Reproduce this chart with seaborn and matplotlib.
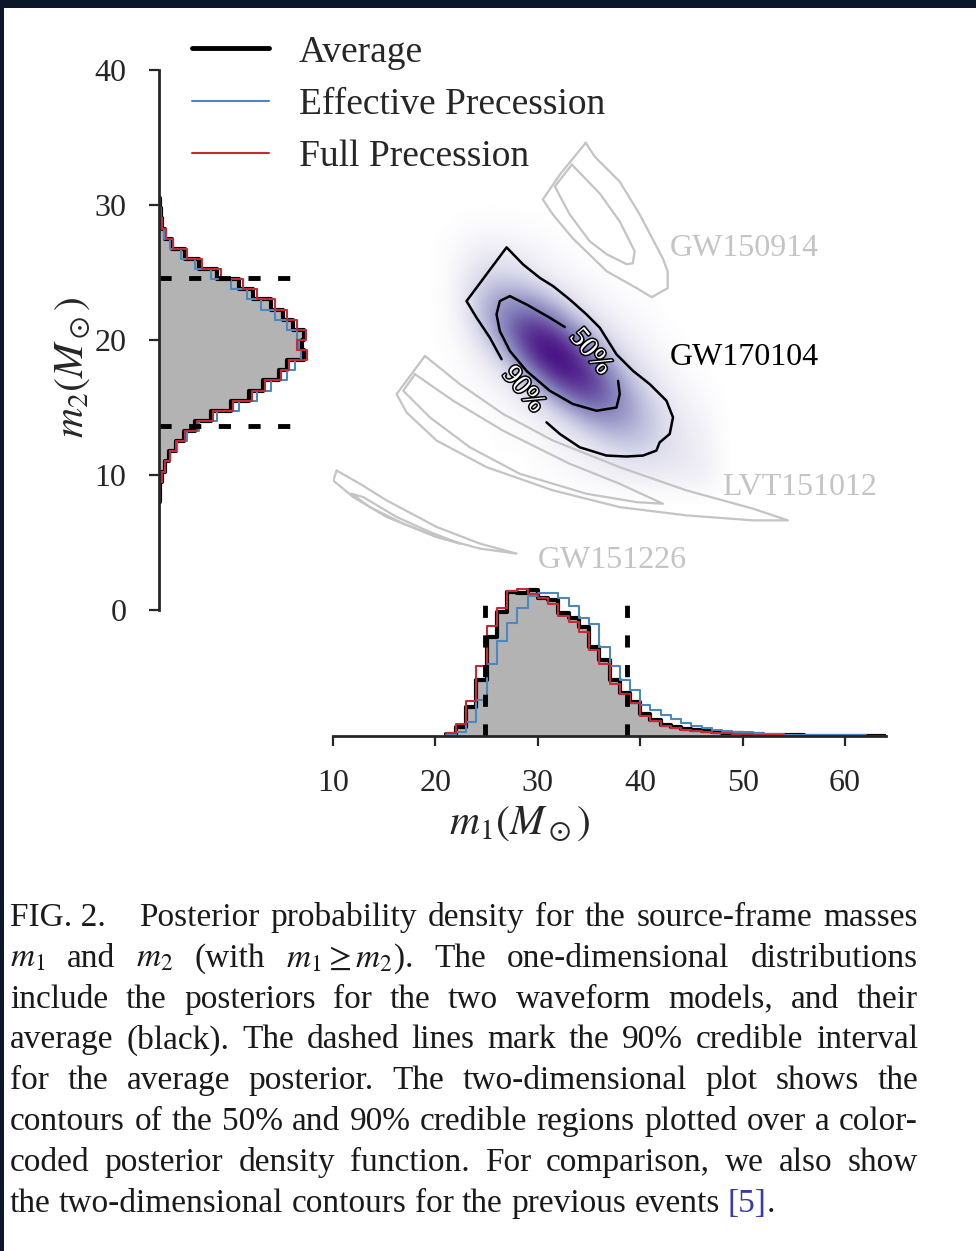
import numpy as np
import pandas as pd
import matplotlib
matplotlib.use("Agg")
import matplotlib.pyplot as plt
import matplotlib.patheffects as pe
from matplotlib.colors import PowerNorm, LinearSegmentedColormap
from matplotlib.lines import Line2D
from matplotlib.patches import Rectangle
import seaborn as sns

sns.set_style("white")
plt.rcParams["font.family"] = ["Liberation Serif", "DejaVu Serif"]
plt.rcParams["mathtext.fontset"] = "stix"

W, H = 976, 1251

# ---- 1D posteriors ----
m1_edges = list(np.arange(21, 65, 1.0))
m1_avg = [2, 9, 29, 56, 99, 124, 144, 143, 146, 138, 136, 123, 118, 109, 89,
          76, 56, 43, 34, 22, 16, 11, 9, 7, 6, 5, 4, 3, 3, 2, 2, 1, 1, 1, 1,
          .5, .5, .5, .5, .3, .3, .3, .3]
m1_eff = [1, 4, 14, 36, 72, 95, 113, 128, 140, 143, 143, 138, 130, 118, 112,
          89, 70, 56, 46, 31, 26, 21, 17, 13, 10, 8, 6, 5, 4, 4, 3, 2, 2, 1, 1,
          1, 1, .8, .8, .6, .6, .5, .5]
m1_full = [3, 12, 35, 70, 110, 128, 145, 147, 142, 138, 132, 120, 114, 104, 86,
           72, 52, 42, 33, 20, 15, 10, 8, 6, 5, 4, 3, 3, 2, 2, 1, 1, 1, .5, .5,
           .5, .3, .3, .3, .2, .2, .2, .2]
m1_ci = [24.8, 38.7]

m2_edges = list(np.arange(8.0, 30.51, 0.75))
m2_avg = [.5, 1, 3, 6, 10, 17, 25, 36, 52, 72, 90, 104, 120, 128, 145,
          143, 145, 134, 124, 112, 94, 80, 58, 40, 26, 13, 6, 3, 2, 1]
m2_eff = [.5, 1, 3, 6, 11, 18, 28, 40, 58, 80, 98, 112, 128, 136, 142,
          140, 138, 128, 116, 102, 88, 72, 52, 36, 22, 11, 5, 3, 1.5, .5]
m2_full = [.5, 1, 3, 6, 11, 17, 26, 38, 54, 74, 93, 106, 122, 130, 148,
           138, 147, 138, 128, 116, 98, 84, 62, 43, 28, 14, 7, 3, 2, 1]
m2_ci = [13.65, 24.6]

# ---- 2D credible contours (m1, m2) ----
gw170104_90_m1 = [26.46, 25.32, 24.02, 23.04, 26.95, 28.57, 30.20, 31.49, 33.12, 34.75, 36.05, 37.68, 39.30,
                  40.93, 42.56, 43.20, 42.88, 41.90, 41.58, 40.27, 38.65, 36.70, 34.10, 32.15, 30.85]
gw170104_90_m2 = [18.58, 20.17, 21.65, 22.88, 26.86, 25.59, 24.60, 23.99, 23.00, 21.90, 20.91, 18.94, 17.71,
                  16.73, 15.50, 14.27, 13.04, 12.42, 11.81, 11.44, 11.37, 11.44, 12.05, 13.04, 13.90]
gw170104_50_m1 = [32.63, 31.17, 28.90, 27.27, 26.29, 25.97, 26.29, 27.27, 28.90, 31.17, 33.45, 35.73, 37.68, 38.0, 37.84]
gw170104_50_m2 = [20.96, 21.65, 22.63, 23.25, 22.88, 21.90, 20.66, 19.19, 17.71, 16.24, 15.25, 14.76, 15.00, 15.99, 16.97]

gw150914_90_m1 = [34.68, 35.56, 38.0, 39.95, 42.2, 42.68, 42.68, 41.12, 39.66, 36.73, 33.41, 31.46, 30.49, 32.15]
gw150914_90_m2 = [34.61, 33.58, 31.73, 29.30, 26.05, 25.09, 23.84, 23.17, 23.84, 25.09, 27.53, 29.30, 30.41, 32.25]
gw150914_50_m1 = [33.32, 36.05, 38.0, 39.46, 39.27, 38.68, 36.73, 35.07, 33.12, 31.66]
gw150914_50_m2 = [32.99, 30.85, 28.78, 26.57, 25.68, 25.61, 26.35, 27.31, 29.30, 31.37]

lvt151012_90_m1 = [18.98, 22.39, 26.61, 31.49, 38.0, 44.51, 51.0, 54.42, 51.0, 44.51, 38.0, 31.49, 25.0, 20.12, 17.19, 16.21]
lvt151012_90_m2 = [18.82, 16.73, 14.52, 12.55, 10.58, 8.86, 7.51, 6.64, 6.64, 7.01, 7.62, 8.86, 10.58, 12.55, 14.63, 15.99]
lvt151012_50_m1 = [18.0, 21.74, 26.61, 33.12, 38.0, 42.22, 39.63, 34.75, 28.24, 23.37, 19.46, 16.86]
lvt151012_50_m2 = [17.47, 15.50, 13.28, 10.83, 9.35, 7.87, 7.99, 8.61, 10.09, 12.05, 14.27, 16.24]

gw151226_90_m1 = [10.36, 10.03, 11.98, 15.24, 20.12, 24.34, 27.92, 24.34, 20.12, 15.24, 12.63]
gw151226_90_m2 = [10.33, 9.59, 8.36, 6.89, 5.41, 4.55, 4.18, 4.92, 6.15, 8.12, 9.35]
gw151226_50_m1 = [11.82, 13.61, 16.86, 20.12, 22.39, 19.46, 16.21, 12.96]
gw151226_50_m2 = [8.61, 7.62, 6.40, 5.41, 4.92, 5.78, 6.89, 8.36]

# ---- GW170104 posterior density (colour intensity, rows = m2, cols = m1) ----
grid_m1 = [19.5, 21, 22.5, 24, 25.5, 27, 28.5, 30, 31.5, 33, 34.5, 36, 37.5, 39, 40.5, 42, 43.5, 45, 46.5, 48]
grid_m2 = [8.5, 10, 11.5, 13, 14.5, 16, 17.5, 19, 20.5, 22, 23.5, 25, 26.5, 28, 29.5]
density = [
    [0, 0, 0, 0, 0, 0, 0, 0, 0, 0, 0, 0, 0, 0, 0, 0, 0, 0, 0, 0],
    [0, 0, 0, 0, 0, 0, 0, 0, 1, 2, 3, 4, 6, 7, 8, 8, 8, 8, 6, 0],
    [0, 0, 0, 0, 0, 0, 0, 1, 2, 4, 6, 10, 14, 17, 17, 15, 12, 9, 6, 0],
    [0, 0, 0, 0, 0, 1, 1, 3, 6, 10, 17, 25, 31, 31, 26, 19, 12, 8, 5, 0],
    [0, 0, 0, 0, 1, 2, 4, 8, 16, 28, 42, 51, 50, 40, 28, 18, 10, 6, 3, 0],
    [0, 0, 0, 1, 2, 5, 12, 25, 44, 64, 75, 71, 55, 37, 22, 12, 6, 3, 1, 0],
    [0, 0, 1, 3, 7, 16, 34, 60, 84, 94, 86, 66, 42, 24, 13, 7, 3, 1, 0, 0],
    [0, 0, 2, 7, 18, 38, 66, 91, 100, 89, 67, 43, 23, 12, 7, 3, 1, 0, 0, 0],
    [0, 1, 4, 16, 34, 58, 80, 88, 79, 59, 37, 20, 10, 6, 3, 1, 0, 0, 0, 0],
    [0, 1, 7, 24, 41, 56, 62, 57, 44, 27, 15, 8, 5, 2, 1, 0, 0, 0, 0, 0],
    [0, 1, 8, 22, 32, 36, 34, 27, 17, 10, 6, 3, 1, 0, 0, 0, 0, 0, 0, 0],
    [0, 1, 6, 13, 18, 17, 14, 9, 5, 3, 1, 1, 0, 0, 0, 0, 0, 0, 0, 0],
    [0, 1, 3, 7, 9, 8, 6, 4, 2, 1, 0, 0, 0, 0, 0, 0, 0, 0, 0, 0],
    [0, 0, 1, 2, 2, 2, 1, 1, 0, 0, 0, 0, 0, 0, 0, 0, 0, 0, 0, 0],
    [0, 0, 0, 0, 0, 0, 0, 0, 0, 0, 0, 0, 0, 0, 0, 0, 0, 0, 0, 0],
]

gray_fill = "#b3b3b3"
c_eff = "#4a88bf"
c_full = "#c62a36"
c_prev = "#c4c4c4"
purples = LinearSegmentedColormap.from_list(
    "wpurples", ["#ffffff", "#efedf5", "#dadaeb", "#bcbddc", "#9e9ac8", "#807dba", "#6a51a3", "#54278f", "#3f007d"])
purples.set_under("white")

fig = plt.figure(figsize=(W / 100, H / 100), dpi=100)


def px_axes(x0, y0, x1, y1):
    return fig.add_axes([x0 / W, 1 - y1 / H, (x1 - x0) / W, (y1 - y0) / H])


# main 2D panel
axM = px_axes(333, 70, 886, 610)
axM.set_facecolor("none")
axM.imshow(density, origin="lower",
           extent=[grid_m1[0] - .75, grid_m1[-1] + .75, grid_m2[0] - .75, grid_m2[-1] + .75],
           cmap=purples, norm=PowerNorm(0.8, vmin=0, vmax=100), interpolation="bicubic",
           aspect="auto", zorder=0)
for a, b in [(gw150914_90_m1, gw150914_90_m2), (gw150914_50_m1, gw150914_50_m2),
             (lvt151012_90_m1, lvt151012_90_m2), (lvt151012_50_m1, lvt151012_50_m2),
             (gw151226_90_m1, gw151226_90_m2), (gw151226_50_m1, gw151226_50_m2)]:
    axM.plot(a + a[:1], b + b[:1], color=c_prev, lw=1.6, solid_joinstyle="round", zorder=2)
axM.plot(gw170104_90_m1, gw170104_90_m2, color="k", lw=1.8, solid_joinstyle="round", zorder=3)
axM.plot(gw170104_50_m1, gw170104_50_m2, color="k", lw=1.8, solid_joinstyle="round", zorder=3)
halo = [pe.withStroke(linewidth=2.2, foreground="k")]
axM.text(35.1, 19.1, "50%", fontsize=20, rotation=-50, color="white", ha="center", va="center",
         path_effects=halo, zorder=4)
axM.text(28.55, 16.3, "90%", fontsize=20, rotation=-50, color="white", ha="center", va="center",
         path_effects=halo, zorder=4)
axM.text(42.9, 26.8, "GW150914", fontsize=23, color=c_prev, va="center")
axM.text(42.9, 18.7, "GW170104", fontsize=23, color="k", va="center")
axM.text(48.0, 9.1, "LVT151012", fontsize=23, color=c_prev, va="center")
axM.text(30.0, 3.7, "GW151226", fontsize=23, color=c_prev, va="center")
axM.set_xlim(10, 64)
axM.set_ylim(0, 40)
axM.axis("off")


def step_hist(ax, orient, mids, weights, edges, **kw):
    df = pd.DataFrame({"mass": mids, "w": weights})
    key = {"x": "mass"} if orient == "x" else {"y": "mass"}
    sns.histplot(data=df, weights="w", bins=edges, element="step", ax=ax, **key, **kw)


# left marginal: m2
axL = px_axes(159, 70, 359, 610)
axL.set_facecolor("none")
m2_mid = [e + 0.375 for e in m2_edges[:-1]]
step_hist(axL, "y", m2_mid, m2_avg, m2_edges, fill=True, color=gray_fill, alpha=1, linewidth=0)
step_hist(axL, "y", m2_mid, m2_avg, m2_edges, fill=False, color="k", linewidth=3)
step_hist(axL, "y", m2_mid, m2_eff, m2_edges, fill=False, color=c_eff, linewidth=1.5)
step_hist(axL, "y", m2_mid, m2_full, m2_edges, fill=False, color=c_full, linewidth=1.5)
for y in m2_ci:
    axL.plot([0, 135], [y, y], color="k", lw=3.5, ls=(0, (2.5, 3.6)))
axL.set_xlim(0, 200)
axL.set_ylim(0, 40)
axL.set_yticks([0, 10, 20, 30, 40])
axL.set_xticks([])
for s in ["top", "right", "bottom"]:
    axL.spines[s].set_visible(False)
axL.spines["left"].set_linewidth(2)
axL.tick_params(axis="y", direction="out", length=7.5, width=1.6, labelsize=23, pad=16, left=True)
axL.set_xlabel("")
axL.set_ylabel(r"$m_2(M_\odot)$", fontsize=30)
axL.yaxis.set_label_coords(-0.33, 0.45)

# bottom marginal: m1
axB = px_axes(333, 536, 886, 736)
axB.set_facecolor("none")
m1_mid = [e + 0.5 for e in m1_edges[:-1]]
step_hist(axB, "x", m1_mid, m1_avg, m1_edges, fill=True, color=gray_fill, alpha=1, linewidth=0)
step_hist(axB, "x", m1_mid, m1_avg, m1_edges, fill=False, color="k", linewidth=3)
step_hist(axB, "x", m1_mid, m1_eff, m1_edges, fill=False, color=c_eff, linewidth=1.5)
step_hist(axB, "x", m1_mid, m1_full, m1_edges, fill=False, color=c_full, linewidth=1.5)
for x in m1_ci:
    axB.plot([x, x], [0, 136], color="k", lw=3.5, ls=(0, (2.5, 3.6)))
axB.set_xlim(10, 64)
axB.set_ylim(0, 200)
axB.set_xticks([10, 20, 30, 40, 50, 60])
axB.set_yticks([])
for s in ["top", "right", "left"]:
    axB.spines[s].set_visible(False)
axB.spines["bottom"].set_linewidth(2)
axB.tick_params(axis="x", direction="out", length=7.5, width=1.6, labelsize=23, pad=16, bottom=True)
axB.set_ylabel("")
axB.set_xlabel(r"$m_1(M_\odot)$", fontsize=30)
axB.xaxis.set_label_coords(0.338, -0.345)

handles = [Line2D([], [], color="k", lw=3.5), Line2D([], [], color=c_eff, lw=1.5),
           Line2D([], [], color=c_full, lw=1.5)]
fig.legend(handles, ["Average", "Effective Precession", "Full Precession"], loc="upper left",
           bbox_to_anchor=(192 / W, 1 - 35 / H), frameon=False, fontsize=27, handlelength=2.05,
           handletextpad=0.8, labelspacing=0.47, borderpad=0, borderaxespad=0)

# caption, justified line by line
caption = [
    "FIG.·2.   Posterior probability density for the source-frame masses",
    "$m_1$ and $m_2$ (with $m_1·\\geq·m_2$). The one-dimensional distributions",
    "include the posteriors for the two waveform models, and their",
    "average (black). The dashed lines mark the 90% credible interval",
    "for the average posterior. The two-dimensional plot shows the",
    "contours of the 50% and 90% credible regions plotted over a color-",
    "coded posterior density function. For comparison, we also show",
    "the two-dimensional contours for the previous events",
]
ink = "#1a1a1a"
fig.canvas.draw()
rend = fig.canvas.get_renderer()
x_left, x_right = 10, 918
for i, line in enumerate(caption):
    yb = 1 - (926 + 40.8 * i) / H
    words = [w.replace("·", " ") for w in line.split(" ")]
    arts = [fig.text(0, yb, w, fontsize=24, color=ink, va="baseline") for w in words]
    widths = [t.get_window_extent(rend).width if w else 0 for t, w in zip(arts, words)]
    last = i == len(caption) - 1
    gap = 8.3 if last else (x_right - x_left - sum(widths)) / (len(words) - 1)
    x = x_left
    for t, wd in zip(arts, widths):
        t.set_x(x / W)
        x += wd + gap
    if last:
        ref = fig.text(x / W, yb, "[5]", fontsize=24, color="#3b3ba8", va="baseline")
        x += ref.get_window_extent(rend).width
        fig.text(x / W, yb, ".", fontsize=24, color=ink, va="baseline")

fig.add_artist(Rectangle((0, 1 - 8 / H), 1, 8 / H, transform=fig.transFigure, fc="#0c182a", ec="none", zorder=20))
fig.add_artist(Rectangle((0, 0), 4 / W, 1, transform=fig.transFigure, fc="#0c182a", ec="none", zorder=20))

fig.savefig("out.png", dpi=100)
